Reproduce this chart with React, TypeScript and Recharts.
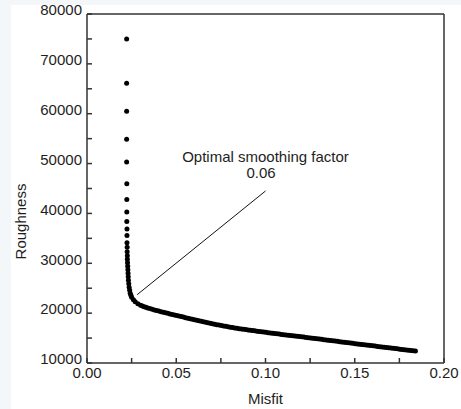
import { ReferenceDot, ReferenceLine, Scatter, ScatterChart, XAxis, YAxis } from "recharts";

// L-curve: misfit vs roughness, one point per smoothing factor
// steep branch (small misfit, large roughness)
const steepMisfit = [
  0.0222, 0.0222, 0.0222, 0.0222, 0.0222, 0.0223, 0.0223, 0.0223, 0.0223, 0.0224, 0.0224, 0.0224, 0.0225, 0.0225,
  0.0226, 0.0226, 0.0227, 0.0228, 0.0229, 0.023, 0.0231, 0.0232, 0.0234, 0.0236, 0.0239, 0.0242, 0.0246,
  0.025, 0.026, 0.027, 0.0285, 0.03, 0.031, 0.032, 0.033, 0.034,
];
const steepRoughness = [
  75000, 66100, 60500, 54900, 50300, 45950, 42800, 40300, 38400, 36900, 35550, 34100, 33200, 32300,
  31500, 30800, 30100, 29400, 28700, 28000, 27300, 26600, 25900, 25200, 24600, 24000, 23600,
  23200, 22700, 22300, 21900, 21600, 21450, 21300, 21170, 21050,
];
// flat branch (the dense band)
const flatMisfit = [
  0.03525, 0.0365, 0.03775, 0.039, 0.04025, 0.0415, 0.04275, 0.044, 0.04525, 0.0465, 0.04775, 0.049,
  0.05025, 0.0515, 0.05275, 0.054, 0.05525, 0.0565, 0.05775, 0.059, 0.06025, 0.0615, 0.06275, 0.064,
  0.06525, 0.0665, 0.06775, 0.069, 0.07025, 0.0715, 0.07275, 0.074, 0.07525, 0.0765, 0.07775, 0.079,
  0.08025, 0.0815, 0.08275, 0.084, 0.08525, 0.0865, 0.08775, 0.089, 0.09025, 0.0915, 0.09275, 0.094,
  0.09525, 0.0965, 0.09775, 0.099, 0.10025, 0.1015, 0.10275, 0.104, 0.10525, 0.1065, 0.10775, 0.109,
  0.11025, 0.1115, 0.11275, 0.114, 0.11525, 0.1165, 0.11775, 0.119, 0.12025, 0.1215, 0.12275, 0.124,
  0.12525, 0.1265, 0.12775, 0.129, 0.13025, 0.1315, 0.13275, 0.134, 0.13525, 0.1365, 0.13775, 0.139,
  0.14025, 0.1415, 0.14275, 0.144, 0.14525, 0.1465, 0.14775, 0.149, 0.15025, 0.1515, 0.15275, 0.154,
  0.15525, 0.1565, 0.15775, 0.159, 0.16025, 0.1615, 0.16275, 0.164, 0.16525, 0.1665, 0.16775, 0.169,
  0.17025, 0.1715, 0.17275, 0.174, 0.17525, 0.1765, 0.17775, 0.179, 0.18025, 0.1815, 0.18275, 0.184,
];
const flatRoughness = [
  20910, 20780, 20650, 20530, 20410, 20290, 20180, 20070, 19960, 19850, 19740, 19630,
  19520, 19420, 19310, 19210, 19100, 19000, 18900, 18800, 18680, 18560, 18450, 18350,
  18250, 18150, 18050, 17960, 17870, 17780, 17690, 17610, 17520, 17440, 17360, 17280,
  17190, 17100, 17030, 16960, 16890, 16830, 16760, 16700, 16630, 16570, 16510, 16450,
  16390, 16330, 16270, 16210, 16150, 16090, 16030, 15970, 15910, 15860, 15800, 15740,
  15680, 15630, 15570, 15520, 15460, 15410, 15350, 15300, 15240, 15190, 15130, 15080,
  15020, 14960, 14910, 14850, 14800, 14740, 14680, 14620, 14570, 14510, 14450, 14400,
  14340, 14280, 14230, 14170, 14110, 14050, 14000, 13940, 13880, 13830, 13770, 13720,
  13660, 13610, 13550, 13500, 13440, 13390, 13330, 13280, 13220, 13170, 13110, 13060,
  13000, 12950, 12890, 12840, 12780, 12730, 12670, 12620, 12560, 12510, 12460, 12410,
];

const xTicks = [0, 0.025, 0.05, 0.075, 0.1, 0.125, 0.15, 0.175, 0.2];
const yTicks = [10000, 15000, 20000, 25000, 30000, 35000, 40000, 45000, 50000, 55000, 60000, 65000, 70000, 75000, 80000];

// pointer from the chosen point up to the note
const pointer = [
  { x: 0.0281, y: 23700 },
  { x: 0.1, y: 44500 },
];
const noteTitle = "Optimal smoothing factor";
const noteValue = "0.06";

const misfit = [...steepMisfit, ...flatMisfit];
const roughness = [...steepRoughness, ...flatRoughness];
const data = misfit.map((m, i) => ({ misfit: m, roughness: roughness[i] }));

const FONT = "'Liberation Sans', Arial, sans-serif";
const AXIS = "#333";
const TEXT = "#1e1e1e";

const fmtX = (v: number) => (Math.round(v * 1000) % 50 === 0 ? v.toFixed(2) : "");
const fmtY = (v: number) => (v % 10000 === 0 ? String(v) : "");

const Dot = (p: any) => <circle cx={p.cx} cy={p.cy} r={2.5} fill="#000" />;

export default function App() {
  return (
    <div style={{ position: "absolute", left: 0, top: 0, width: 461, height: 409, background: "#f3f7fa" }}>
      <div style={{ position: "absolute", left: 11, top: 5, width: 450, height: 404, background: "#fff" }} />
      <div style={{ position: "absolute", left: 0, top: 0, fontFamily: FONT }}>
        <ScatterChart width={461} height={409} margin={{ top: 14, right: 17, left: 0, bottom: 0 }}>
          <XAxis
            dataKey="misfit"
            type="number"
            domain={[0, 0.2]}
            ticks={xTicks}
            interval={0}
            tickFormatter={fmtX}
            height={46}
            tickSize={-5}
            tickMargin={9}
            stroke={AXIS}
            strokeWidth={1.5}
            tick={{ fill: TEXT, fontSize: 15, fontFamily: FONT }}
            label={{ value: "Misfit", position: "insideBottom", offset: 5, fill: TEXT, fontSize: 15, fontFamily: FONT }}
          />
          <XAxis
            xAxisId="top"
            orientation="top"
            type="number"
            domain={[0, 0.2]}
            ticks={xTicks}
            interval={0}
            height={1}
            mirror
            tickSize={5}
            tick={false}
            stroke={AXIS}
            strokeWidth={1.5}
          />
          <YAxis
            dataKey="roughness"
            type="number"
            domain={[10000, 80000]}
            ticks={yTicks}
            interval={0}
            tickFormatter={fmtY}
            width={87}
            tickSize={-5}
            tickMargin={10}
            stroke={AXIS}
            strokeWidth={1.5}
            tick={{ fill: TEXT, fontSize: 15, fontFamily: FONT, dy: -4 }}
            label={{
              value: "Roughness",
              angle: -90,
              position: "center",
              dx: -23,
              dy: 33,
              fill: TEXT,
              fontSize: 15,
              fontFamily: FONT,
            }}
          />
          <YAxis
            yAxisId="right"
            orientation="right"
            type="number"
            domain={[10000, 80000]}
            ticks={yTicks}
            interval={0}
            width={1}
            mirror
            tickSize={5}
            tick={false}
            stroke={AXIS}
            strokeWidth={1.5}
          />
          <Scatter data={data} fill="#000" shape={Dot} isAnimationActive={false} />
          <ReferenceLine segment={pointer} stroke="#111" strokeWidth={1} />
          <ReferenceDot
            x={0.1}
            y={51450}
            r={0}
            stroke="none"
            label={{ value: noteTitle, position: "center", fill: TEXT, fontSize: 15, fontFamily: FONT }}
          />
          <ReferenceDot
            x={0.0975}
            y={48150}
            r={0}
            stroke="none"
            label={{ value: noteValue, position: "center", fill: TEXT, fontSize: 15, fontFamily: FONT }}
          />
        </ScatterChart>
      </div>
    </div>
  );
}
